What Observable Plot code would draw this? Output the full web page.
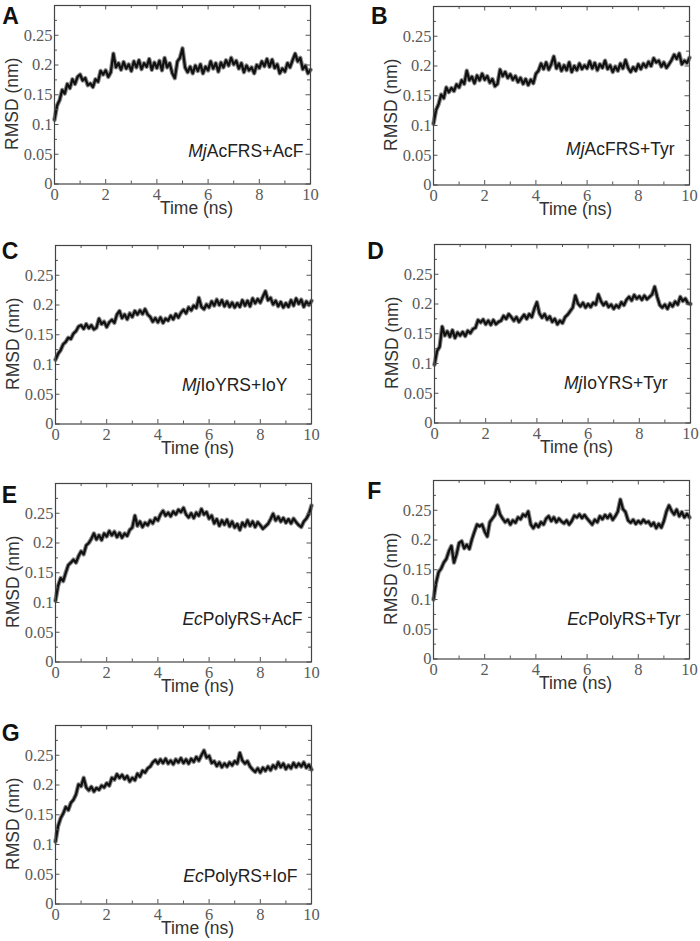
<!DOCTYPE html>
<html><head><meta charset="utf-8">
<script src="https://cdn.jsdelivr.net/npm/d3@7"></script>
<script src="https://cdn.jsdelivr.net/npm/@observablehq/plot@0.6"></script>
<style>
body{margin:0;background:#fff;}
#fig{position:relative;width:700px;height:941px;overflow:hidden;background:#fff;}
.panel{position:absolute;}
.letter{position:absolute;font-family:"Liberation Sans",Arial,sans-serif;font-weight:bold;font-size:23px;line-height:23px;color:#111;}
</style></head><body><div id="fig"></div>
<script>
// ---- data ----
const time = [0,0.1,0.2,0.3,0.4,0.5,0.6,0.7,0.8,0.9,1,1.1,1.2,1.3,1.4,1.5,1.6,1.7,1.8,1.9,2,2.1,2.2,2.3,2.4,2.5,2.6,2.7,2.8,2.9,3,3.1,3.2,3.3,3.4,3.5,3.6,3.7,3.8,3.9,4,4.1,4.2,4.3,4.4,4.5,4.6,4.7,4.8,4.9,5,5.1,5.2,5.3,5.4,5.5,5.6,5.7,5.8,5.9,6,6.1,6.2,6.3,6.4,6.5,6.6,6.7,6.8,6.9,7,7.1,7.2,7.3,7.4,7.5,7.6,7.7,7.8,7.9,8,8.1,8.2,8.3,8.4,8.5,8.6,8.7,8.8,8.9,9,9.1,9.2,9.3,9.4,9.5,9.6,9.7,9.8,9.9,10];

const rmsdA = [0.108,0.132,0.141,0.158,0.152,0.168,0.161,0.176,0.168,0.180,0.184,0.174,0.178,0.166,0.169,0.163,0.176,0.172,0.190,0.184,0.191,0.180,0.188,0.219,0.196,0.203,0.192,0.205,0.194,0.201,0.190,0.206,0.196,0.208,0.193,0.203,0.197,0.210,0.192,0.204,0.195,0.207,0.191,0.212,0.196,0.203,0.186,0.178,0.206,0.212,0.228,0.196,0.188,0.197,0.186,0.199,0.190,0.201,0.186,0.197,0.191,0.206,0.194,0.203,0.189,0.204,0.196,0.208,0.199,0.212,0.201,0.207,0.194,0.203,0.188,0.199,0.191,0.196,0.186,0.200,0.195,0.206,0.198,0.210,0.197,0.209,0.195,0.201,0.186,0.194,0.189,0.203,0.196,0.208,0.219,0.206,0.212,0.193,0.199,0.186,0.192];

const rmsdB = [0.103,0.126,0.136,0.152,0.146,0.164,0.156,0.163,0.158,0.169,0.164,0.176,0.170,0.192,0.176,0.182,0.171,0.184,0.176,0.187,0.177,0.183,0.172,0.178,0.166,0.170,0.194,0.183,0.190,0.180,0.186,0.177,0.183,0.173,0.180,0.170,0.178,0.168,0.177,0.171,0.187,0.192,0.204,0.195,0.206,0.194,0.203,0.216,0.196,0.204,0.192,0.201,0.193,0.206,0.190,0.200,0.193,0.204,0.195,0.201,0.196,0.208,0.196,0.205,0.193,0.203,0.197,0.209,0.195,0.201,0.190,0.199,0.192,0.204,0.196,0.210,0.197,0.190,0.198,0.192,0.203,0.195,0.204,0.198,0.207,0.200,0.213,0.206,0.209,0.199,0.206,0.197,0.203,0.210,0.219,0.212,0.221,0.203,0.209,0.205,0.214];

const rmsdC = [0.108,0.118,0.124,0.134,0.138,0.145,0.143,0.152,0.156,0.164,0.166,0.160,0.168,0.161,0.166,0.159,0.162,0.177,0.168,0.172,0.163,0.171,0.175,0.170,0.184,0.190,0.178,0.184,0.176,0.186,0.180,0.190,0.184,0.191,0.185,0.193,0.184,0.180,0.172,0.178,0.171,0.179,0.170,0.177,0.174,0.182,0.176,0.185,0.179,0.187,0.192,0.186,0.196,0.191,0.199,0.195,0.212,0.197,0.193,0.201,0.196,0.206,0.199,0.209,0.200,0.208,0.198,0.206,0.197,0.204,0.196,0.203,0.197,0.208,0.199,0.207,0.198,0.211,0.203,0.210,0.204,0.214,0.223,0.208,0.212,0.201,0.207,0.198,0.205,0.196,0.203,0.197,0.208,0.199,0.211,0.202,0.209,0.197,0.206,0.200,0.207];

const rmsdD = [0.098,0.121,0.128,0.162,0.147,0.154,0.145,0.156,0.143,0.152,0.147,0.153,0.146,0.155,0.151,0.158,0.160,0.173,0.169,0.174,0.166,0.172,0.165,0.173,0.166,0.170,0.172,0.180,0.175,0.183,0.178,0.172,0.178,0.170,0.176,0.182,0.175,0.183,0.178,0.192,0.203,0.184,0.177,0.183,0.174,0.179,0.170,0.175,0.166,0.172,0.168,0.178,0.182,0.188,0.194,0.214,0.201,0.196,0.202,0.194,0.200,0.195,0.202,0.199,0.216,0.205,0.198,0.203,0.195,0.199,0.192,0.198,0.194,0.203,0.198,0.207,0.212,0.206,0.215,0.209,0.213,0.207,0.214,0.208,0.212,0.216,0.229,0.212,0.198,0.194,0.199,0.192,0.201,0.196,0.204,0.199,0.212,0.205,0.209,0.201,0.200];

const rmsdE = [0.103,0.128,0.141,0.136,0.150,0.163,0.167,0.172,0.167,0.178,0.186,0.181,0.196,0.200,0.207,0.216,0.206,0.213,0.205,0.216,0.211,0.220,0.213,0.219,0.210,0.217,0.209,0.216,0.212,0.222,0.226,0.246,0.229,0.236,0.227,0.234,0.230,0.238,0.233,0.242,0.238,0.248,0.254,0.246,0.251,0.245,0.253,0.248,0.256,0.252,0.259,0.248,0.243,0.250,0.242,0.251,0.246,0.257,0.248,0.252,0.241,0.246,0.233,0.240,0.229,0.238,0.231,0.239,0.228,0.236,0.226,0.232,0.222,0.234,0.228,0.238,0.229,0.236,0.227,0.235,0.230,0.224,0.228,0.232,0.240,0.249,0.238,0.244,0.236,0.242,0.234,0.240,0.233,0.241,0.235,0.230,0.227,0.236,0.241,0.249,0.263];

const rmsdF = [0.100,0.128,0.146,0.152,0.162,0.168,0.181,0.190,0.162,0.176,0.195,0.198,0.186,0.192,0.185,0.201,0.214,0.226,0.223,0.226,0.214,0.206,0.230,0.236,0.242,0.258,0.243,0.236,0.230,0.234,0.226,0.233,0.229,0.238,0.235,0.243,0.240,0.248,0.226,0.220,0.227,0.222,0.230,0.226,0.236,0.240,0.232,0.238,0.230,0.236,0.231,0.228,0.233,0.226,0.232,0.241,0.238,0.243,0.237,0.242,0.236,0.231,0.226,0.234,0.230,0.240,0.235,0.242,0.237,0.243,0.234,0.240,0.248,0.268,0.252,0.247,0.233,0.229,0.234,0.227,0.232,0.228,0.234,0.229,0.231,0.224,0.229,0.220,0.227,0.221,0.232,0.248,0.258,0.249,0.243,0.251,0.240,0.247,0.238,0.244,0.238];

const rmsdG = [0.105,0.131,0.144,0.152,0.163,0.158,0.170,0.175,0.184,0.201,0.198,0.212,0.196,0.191,0.197,0.189,0.195,0.192,0.199,0.196,0.203,0.199,0.212,0.209,0.218,0.212,0.217,0.210,0.215,0.206,0.212,0.208,0.219,0.214,0.224,0.221,0.228,0.231,0.238,0.242,0.236,0.243,0.237,0.244,0.236,0.241,0.235,0.243,0.238,0.245,0.237,0.243,0.236,0.244,0.239,0.247,0.241,0.250,0.258,0.246,0.249,0.237,0.240,0.232,0.238,0.230,0.236,0.231,0.238,0.233,0.240,0.236,0.254,0.241,0.236,0.240,0.231,0.226,0.222,0.228,0.221,0.229,0.224,0.231,0.225,0.233,0.228,0.238,0.230,0.236,0.227,0.233,0.228,0.237,0.230,0.236,0.231,0.238,0.229,0.234,0.226];

const panelLetters = ["A","B","C","D","E","F","G"];
const labelPrefixes = ["Mj","Mj","Mj","Mj","Ec","Ec","Ec"];
const labelRests = ["AcFRS+AcF","AcFRS+Tyr","IoYRS+IoY","IoYRS+Tyr","PolyRS+AcF","PolyRS+Tyr","PolyRS+IoF"];
const seriesList = [rmsdA, rmsdB, rmsdC, rmsdD, rmsdE, rmsdF, rmsdG];

const xTicks = [0,2,4,6,8,10];
const xTickLabels = ["0","2","4","6","8","10"];
const xMinorTicks = [1,3,5,7,9];
const yTicks = [0,0.05,0.1,0.15,0.2,0.25];
const yTickLabels = ["0","0.05","0.1","0.15","0.2","0.25"];
const yMinorTicks = [0.025,0.075,0.125,0.175,0.225,0.275];
const xLabel = "Time (ns)";
const yLabel = "RMSD (nm)";
const xDomain = [0,10];
const yDomain = [0,0.3];

// ---- layout ----
const frameLeft = [54,433,55,434,55,432.5,55];
const frameTop = [5,6,245,244,483,480,725];
const letterLeft = [2.3,371,1.7,367.3,1.7,367.3,1.7];
const letterTop = [5.3,5.3,240.3,240.3,483.7,480.3,722];
const labelDx = [-7,-15,-24,-23,-9,-9,-14];
const labelDy = [-27,-30,-33,-34,-37,-34,-22];

const FW = 256, FH = 178.5;
const mL = 56, mT = 6, mR = 10, mB = 48;
const sans = "'Liberation Sans', Arial, sans-serif";
const serif = "'Liberation Serif', 'Times New Roman', 'DejaVu Serif', serif";

const fig = document.getElementById("fig");

seriesList.forEach((vals, k) => {
  const rows = time.map((t, i) => ({t, v: vals[i]}));
  const fullLabel = labelPrefixes[k] + labelRests[k];
  const svg = Plot.plot({
    width: mL + FW + mR,
    height: mT + FH + mB,
    marginLeft: mL, marginTop: mT, marginRight: mR, marginBottom: mB,
    style: {background: "transparent", overflow: "visible"},
    x: {domain: xDomain, axis: null},
    y: {domain: yDomain, axis: null},
    marks: [
      Plot.line(rows, {x: "t", y: "v", stroke: "#8c8c8c", strokeWidth: 4.4, strokeLinejoin: "round"}),
      Plot.line(rows, {x: "t", y: "v", stroke: "#111", strokeWidth: 2.3, strokeLinejoin: "round"}),
      // inward ticks on all four sides
      Plot.tickY(yTicks, {y: d => d, stroke: "#555", insetRight: FW - 4.5}),
      Plot.tickY(yMinorTicks, {y: d => d, stroke: "#555", insetRight: FW - 3}),
      Plot.tickY(yTicks, {y: d => d, stroke: "#555", insetLeft: FW - 4.5}),
      Plot.tickY(yMinorTicks, {y: d => d, stroke: "#555", insetLeft: FW - 3}),
      Plot.tickX(xTicks, {x: d => d, stroke: "#555", insetTop: FH - 4.5}),
      Plot.tickX(xMinorTicks, {x: d => d, stroke: "#555", insetTop: FH - 3}),
      Plot.tickX(xTicks, {x: d => d, stroke: "#555", insetBottom: FH - 4.5}),
      Plot.tickX(xMinorTicks, {x: d => d, stroke: "#555", insetBottom: FH - 3}),
      Plot.frame({stroke: "#444", strokeWidth: 1.2}),
      Plot.axisX(xTicks, {tickSize: 0, tickPadding: 4, label: null, tickFormat: d => xTickLabels[xTicks.indexOf(d)]}),
      Plot.axisY(yTicks, {tickSize: 0, tickPadding: 2, label: null, tickFormat: d => yTickLabels[yTicks.indexOf(d)]}),
      Plot.text([xLabel], {frameAnchor: "bottom", dx: 14, dy: 30, lineAnchor: "bottom", textAnchor: "middle", fontFamily: sans, fontSize: 17.5, fill: "#333"}),
      Plot.text([yLabel], {frameAnchor: "left", rotate: -90, dx: -37, dy: 9, lineAnchor: "bottom", textAnchor: "middle", fontFamily: sans, fontSize: 17.5, fill: "#333"}),
      Plot.text([fullLabel], {frameAnchor: "bottom-right", dx: labelDx[k], dy: labelDy[k], lineAnchor: "bottom", textAnchor: "end", fontFamily: sans, fontSize: 17.5, fill: "#222"})
    ]
  });
  const ns = "http://www.w3.org/2000/svg";
  svg.querySelectorAll("text").forEach(t => {
    const s = t.textContent;
    if (s === fullLabel) {
      // italicise the organism prefix of the in-panel label
      t.textContent = "";
      const it = document.createElementNS(ns, "tspan");
      it.setAttribute("font-style", "italic");
      it.textContent = labelPrefixes[k];
      t.appendChild(it);
      t.appendChild(document.createTextNode(labelRests[k]));
    } else if (s !== xLabel && s !== yLabel) {
      // tick labels: gray serif, as in the reference
      t.style.fontFamily = serif;
      t.style.fontSize = "16.5px";
      t.style.fill = "#5a5a5a";
    }
  });
  const wrap = document.createElement("div");
  wrap.className = "panel";
  wrap.style.left = (frameLeft[k] - mL) + "px";
  wrap.style.top = (frameTop[k] - mT) + "px";
  wrap.appendChild(svg);
  fig.appendChild(wrap);

  const L = document.createElement("div");
  L.className = "letter";
  L.style.left = letterLeft[k] + "px";
  L.style.top = letterTop[k] + "px";
  L.textContent = panelLetters[k];
  fig.appendChild(L);
});
</script>
</body></html>
